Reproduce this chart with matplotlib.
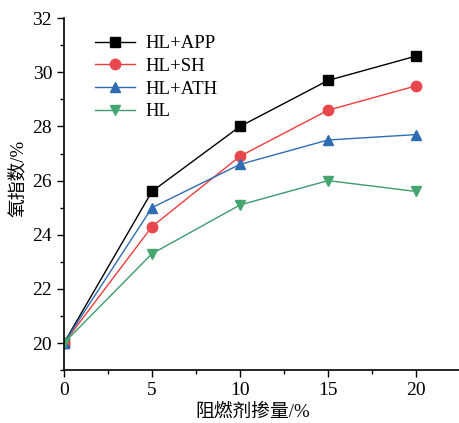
import matplotlib.pyplot as plt
from matplotlib.ticker import MultipleLocator

plt.rcParams['font.family'] = ['Liberation Serif', 'Noto Sans CJK SC']

x = [0, 5, 10, 15, 20]
hl_app = [20, 25.6, 28.0, 29.7, 30.6]
hl_sh = [20, 24.3, 26.9, 28.6, 29.5]
hl_ath = [20, 25.0, 26.6, 27.5, 27.7]
hl = [20, 23.3, 25.1, 26.0, 25.6]

fig = plt.figure(figsize=(4.6, 4.23), dpi=100)
ax = fig.add_axes([0.139, 0.125, 0.861, 0.832])

ax.plot(x, hl_app, '-s', color='black', lw=1, ms=7, label='HL+APP')
ax.plot(x, hl_sh, '-o', color='#f03c3c', mfc='#e8474c', mec='#e8474c', lw=1, ms=7.5, label='HL+SH')
ax.plot(x, hl_ath, '-^', color='#2e6db4', lw=1, ms=7.5, label='HL+ATH')
ax.plot(x, hl, '-v', color='#3d9b6e', mfc='#46a672', mec='#46a672', lw=1, ms=7.5, label='HL')

ax.set_xlim(0, 22.5)
ax.set_ylim(19, 32)
ax.xaxis.set_major_locator(MultipleLocator(5))
ax.xaxis.set_minor_locator(MultipleLocator(2.5))
ax.yaxis.set_major_locator(MultipleLocator(2))
ax.yaxis.set_minor_locator(MultipleLocator(1))
ax.tick_params(which='major', length=5, width=1, labelsize=14)
ax.tick_params(which='minor', length=3, width=1)
ax.spines['top'].set_visible(False)
ax.spines['right'].set_visible(False)
ax.spines['left'].set_linewidth(1.2)
ax.spines['bottom'].set_linewidth(1.2)

ax.set_xlabel('阻燃剂掺量/%', fontsize=13.5)
ax.set_ylabel('氧指数/%', fontsize=13.5)
ax.xaxis.set_label_coords(0.477, -0.095)
ax.yaxis.set_label_coords(-0.093, 0.545)
ax.legend(loc='upper left', bbox_to_anchor=(0.035, 1.0), frameon=False, fontsize=13.5,
          handlelength=2.15, handletextpad=0.55, labelspacing=0.3)

fig.savefig('out.png', dpi=100)
plt.close()
